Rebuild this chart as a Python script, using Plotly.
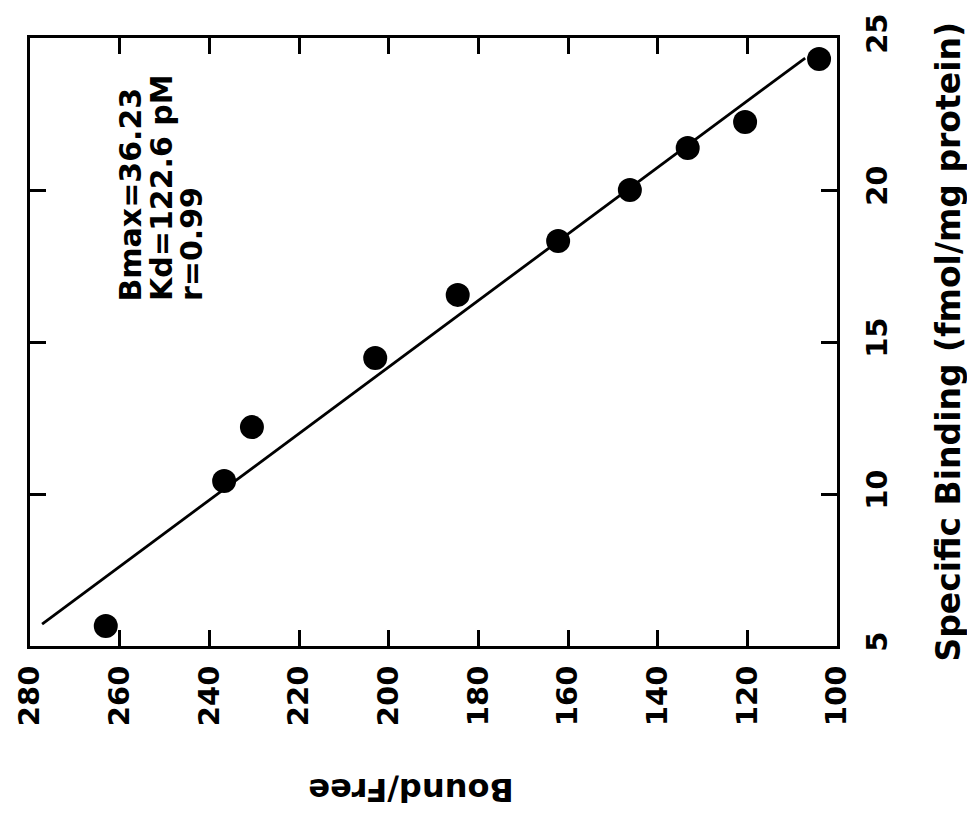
import plotly.graph_objects as go

# Data read from the (rotated) Scatchard plot
bound_free = [263.1, 236.7, 230.5, 203.0, 184.6, 162.2, 146.2, 133.3, 120.5, 104.0]
specific_binding = [5.66, 10.43, 12.2, 14.47, 16.55, 18.32, 20.0, 21.38, 22.24, 24.31]

# Fitted line endpoints
fit_bound_free = [277.3, 107.1]
fit_specific_binding = [5.72, 24.34]

x_ticks = [280, 260, 240, 220, 200, 180, 160, 140, 120, 100]
y_ticks = [5, 10, 15, 20, 25]

stats_lines = ["Bmax=36.23", "Kd=122.6 pM", "r=0.99"]

FONT = "DejaVu Sans"

fig = go.Figure()
fig.add_trace(go.Scatter(
    x=fit_bound_free, y=fit_specific_binding, mode="lines",
    line=dict(color="black", width=2.8), showlegend=False, hoverinfo="skip"))
fig.add_trace(go.Scatter(
    x=bound_free, y=specific_binding, mode="markers",
    marker=dict(color="black", size=24), showlegend=False))

fig.update_layout(
    width=967, height=819,
    margin=dict(l=26, r=130, t=38, b=173),
    paper_bgcolor="white", plot_bgcolor="white",
    font=dict(family=FONT, color="black", weight="bold"),
    xaxis=dict(
        range=[280, 100], tickvals=x_ticks, ticktext=[str(v) for v in x_ticks],
        tickangle=-90, ticks="inside", ticklen=16, tickwidth=2.5, tickcolor="black",
        showline=True, linewidth=3, linecolor="black", mirror="ticks",
        showgrid=False, zeroline=False, ticklabelstandoff=5,
        tickfont=dict(family=FONT, size=29, color="black", weight="bold")),
    yaxis=dict(
        range=[5, 25], tickvals=y_ticks, ticktext=[str(v) for v in y_ticks],
        side="right", tickangle=-90, ticks="inside", ticklen=16, tickwidth=2.5,
        tickcolor="black", showline=True, linewidth=3, linecolor="black",
        mirror="ticks", showgrid=False, zeroline=False, ticklabelstandoff=12,
        tickfont=dict(family=FONT, size=29, color="black", weight="bold")),
)

# Stats text, each line rotated
stats_x = [257.6, 250.7, 244.1]
for txt, xv in zip(stats_lines, stats_x):
    fig.add_annotation(
        x=xv, y=16.28, xref="x", yref="y", text=txt, showarrow=False,
        textangle=-90, xanchor="center", yanchor="bottom",
        font=dict(family=FONT, size=30, color="black", weight="bold"))

# Right axis title
fig.add_annotation(
    x=1.137, y=0.5, xref="paper", yref="paper",
    text="Specific Binding (fmol/mg protein)", showarrow=False,
    textangle=-90, xanchor="center", yanchor="middle",
    font=dict(family=FONT, size=33, color="black", weight="bold"))

# Bottom axis title (upside down)
fig.add_annotation(
    x=0.472, y=-0.237, xref="paper", yref="paper",
    text="Bound/Free", showarrow=False, textangle=180,
    xanchor="center", yanchor="middle",
    font=dict(family=FONT, size=32, color="black", weight="bold"))

fig.write_html("out.html")
